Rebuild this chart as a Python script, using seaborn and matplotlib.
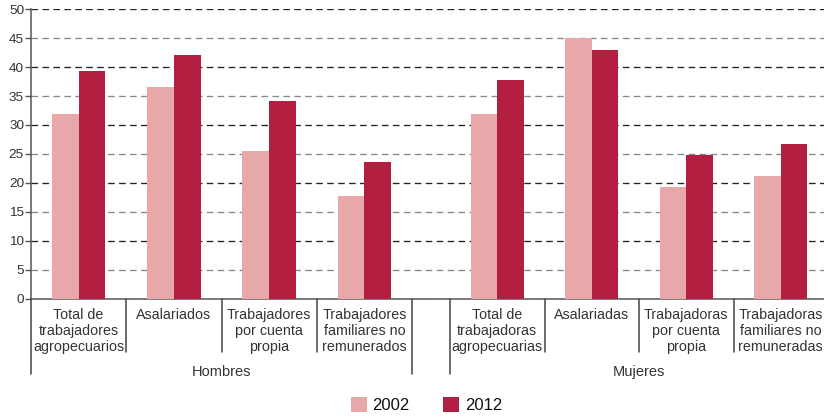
"""Trabajadores agropecuarios por categoria ocupacional, 2002 vs 2012."""

import matplotlib.pyplot as plt
import pandas as pd
import seaborn as sns

YEARS = ["2002", "2012"]

HOMBRES_CATS = [
    "Total de\ntrabajadores\nagropecuarios",
    "Asalariados",
    "Trabajadores\npor cuenta\npropia",
    "Trabajadores\nfamiliares no\nremunerados",
]
HOMBRES_2002 = [31.9, 36.6, 25.5, 17.7]
HOMBRES_2012 = [39.3, 42.1, 34.1, 23.6]

MUJERES_CATS = [
    "Total de\ntrabajadoras\nagropecuarias",
    "Asalariadas",
    "Trabajadoras\npor cuenta\npropia",
    "Trabajadoras\nfamiliares no\nremuneradas",
]
MUJERES_2002 = [31.9, 45.0, 19.3, 21.2]
MUJERES_2012 = [37.7, 43.0, 24.8, 26.7]

COLORS = {"2002": "#E8A8AA", "2012": "#B21F40"}
TEXT = "#333333"
W, H = 824, 418


def to_long(cats, v2002, v2012):
    """Build a long table for seaborn."""
    rows = []
    for c, a, b in zip(cats, v2002, v2012):
        rows.append({"cat": c, "year": "2002", "val": a})
        rows.append({"cat": c, "year": "2012", "val": b})
    return pd.DataFrame(rows)


def rect(left, right, top, bottom):
    return [left / W, 1 - bottom / H, (right - left) / W, (bottom - top) / H]


sns.set_style("white")
plt.rcParams["font.family"] = ["Liberation Sans", "DejaVu Sans"]

fig = plt.figure(figsize=(W / 100, H / 100), dpi=100)

# background axes: y axis, dashed grid and the zero line across both groups
bg = fig.add_axes(rect(31, 824, 9.3, 298.5))
bg.set_ylim(0, 50)
bg.set_xlim(0, 1)
bg.set_xticks([])
bg.set_yticks(range(0, 51, 5))
bg.tick_params(axis="y", length=4, width=1, color="#555555", labelsize=9.7,
               labelcolor=TEXT, pad=1, left=True)
bg.grid(axis="y", linestyle=(0, (5, 3.3)), linewidth=0.95)
for i, line in enumerate(bg.yaxis.get_gridlines()):
    line.set_color("#222222" if i % 2 == 0 else "#888888")
for side in ["top", "right"]:
    bg.spines[side].set_visible(False)
bg.spines["left"].set_color("#555555")
bg.spines["left"].set_linewidth(1.1)
bg.spines["bottom"].set_color("#666666")
bg.spines["bottom"].set_linewidth(1.2)
bg.spines["bottom"].set_zorder(5)

groups = [
    ("Hombres", HOMBRES_CATS, HOMBRES_2002, HOMBRES_2012, (31, 412)),
    ("Mujeres", MUJERES_CATS, MUJERES_2002, MUJERES_2012, (450, 828)),
]

handles = labels = None
for name, cats, v02, v12, (left, right) in groups:
    ax = fig.add_axes(rect(left, right, 9.3, 298.5))
    ax.patch.set_alpha(0)
    sns.barplot(data=to_long(cats, v02, v12), x="cat", y="val", hue="year",
                hue_order=YEARS, palette=COLORS, width=0.56, saturation=1,
                linewidth=0, ax=ax)
    handles, labels = ax.get_legend_handles_labels()
    ax.get_legend().remove()
    ax.set_ylim(0, 50)
    ax.set_xlim(-0.5, 3.5)
    ax.set_yticks([])
    ax.set_xlabel("")
    ax.set_ylabel("")
    for s in ax.spines.values():
        s.set_visible(False)
    ax.tick_params(axis="x", length=0, pad=6.5, labelsize=10.3,
                   labelcolor=TEXT)
    trans = ax.get_xaxis_transform()
    for k in range(5):
        x = k - 0.5
        low = -0.261 if k in (0, 4) else -0.185
        ax.plot([x, x], [0, low], transform=trans, clip_on=False,
                color="#444444", linewidth=1.1)
    ax.text(0.5, -0.254, name, transform=ax.transAxes, ha="center",
            va="center", fontsize=10.5, color=TEXT)

fig.legend(handles, labels, loc="center", bbox_to_anchor=(426.5 / W, 1 - 405 / H),
           ncol=2, frameon=False, fontsize=12, handlelength=0.96,
           handleheight=0.96, handletextpad=0.36, columnspacing=2.0,
           labelcolor="#111111")

fig.savefig("out.png", dpi=100)
